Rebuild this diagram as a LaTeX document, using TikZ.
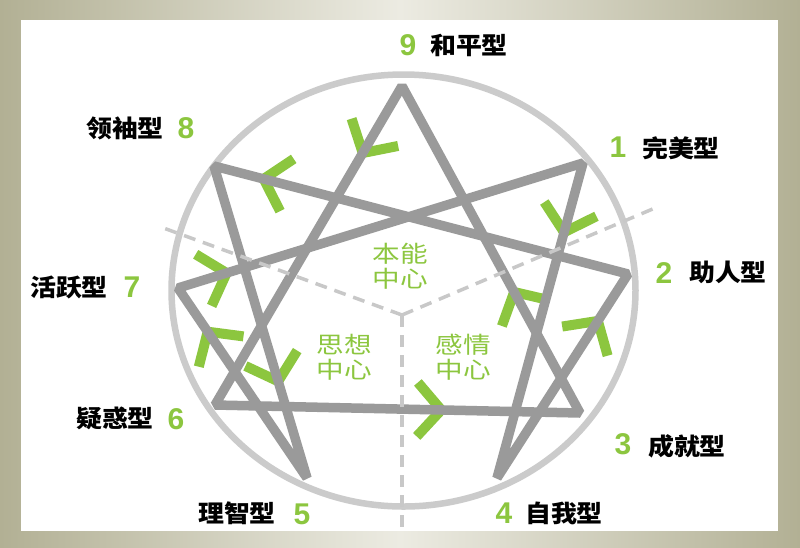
\documentclass[tikz,border=0pt]{standalone}
\usepackage{fontspec}
\usepackage{graphicx}
\newfontfamily\cjk{Noto Sans CJK SC}
\newfontfamily\digf{Liberation Sans}
\definecolor{leaf}{HTML}{8CC63F}
\definecolor{starc}{HTML}{9A9A9A}
\definecolor{ringc}{HTML}{CBCBCB}
\definecolor{dashc}{HTML}{C8C8C8}
\definecolor{frameout}{HTML}{B2B094}
\definecolor{framein}{HTML}{ECEBE2}
\tikzset{
  chev/.pic={\draw[chevline] (-24,-27) -- (0,0) -- (-24,27);},
}
\begin{document}
\begin{tikzpicture}[x=1pt,y=-1pt,
  starline/.style={draw=starc,line width=9.5,line join=bevel},
  ringline/.style={draw=ringc,line width=6.5},
  chevline/.style={draw=leaf,line width=10,line cap=butt,line join=miter},
  divider/.style={draw=dashc,line width=3.5,dash pattern=on 12pt off 8pt},
  num/.style={text=leaf,font=\digf\bfseries\fontsize{30}{30}\selectfont,inner sep=0},
  typ/.style={text=black,font=\cjk\bfseries\fontsize{24}{24}\selectfont,inner sep=0},
  ctrlbl/.style={text=leaf,font=\cjk\fontsize{23}{25}\selectfont,align=center,inner sep=0},
  arrowpos/.style={pos=#1,sloped,allow upside down}
]
\useasboundingbox (0,0) rectangle (800,547);
\shade[left color=frameout, right color=frameout, middle color=framein] (0,0) rectangle (800,547);
\fill[white] (21,20) rectangle (778,531);

% ring
\draw[ringline] (403.5,290.5) ellipse [x radius=232, y radius=216];

% vertices
\coordinate (v9) at (402,86);
\coordinate (v1) at (583,163);
\coordinate (v2) at (628,274);
\coordinate (v3) at (580,413);
\coordinate (v4) at (497,478);
\coordinate (v5) at (307,478);
\coordinate (v6) at (215,405);
\coordinate (v7) at (178,288);
\coordinate (v8) at (214,166);

% arrowheads (under the lines)
\path (v9) -- pic[arrowpos=0.21]{chev} (v6);
\path (v6) -- pic[arrowpos=0.62]{chev} (v3);
\path (v3) -- pic[arrowpos=0.37]{chev} (v9);
\path (v1) -- pic[arrowpos=0.22]{chev} (v4);
\path (v4) -- pic[arrowpos=0.77]{chev} (v2);
\path (v2) -- pic[arrowpos=0.88]{chev} (v8);
\path (v8) -- pic[arrowpos=0.69]{chev} (v5);
\path (v5) -- pic[arrowpos=0.77]{chev} (v7);
\path (v7) -- pic[arrowpos=0.12]{chev} (v1);

% star
\draw[starline] (v9) -- (v3) -- (v6) -- cycle;
\draw[starline] (v1) -- (v4) -- (v2) -- (v8) -- (v5) -- (v7) -- cycle;

% dividers
\coordinate (c0) at (402,315);
\coordinate (dl) at (158,226);
\coordinate (dr) at (655,208);
\coordinate (db) at (402,531);
\draw[divider] (c0) -- (dl);
\draw[divider] (c0) -- (dr);
\draw[divider] (c0) -- (db);

% centre labels
\node[ctrlbl] (cA) at (400,266) {\scalebox{1.2}[1]{本能}\\\scalebox{1.2}[1]{中心}};
\node[ctrlbl] (cB) at (344,357) {\scalebox{1.2}[1]{思想}\\\scalebox{1.2}[1]{中心}};
\node[ctrlbl] (cC) at (463,357) {\scalebox{1.2}[1]{感情}\\\scalebox{1.2}[1]{中心}};

% numbers
\node[num] (n9) at (408,45) {9};
\node[num] (n1) at (618,147) {1};
\node[num] (n2) at (664,273) {2};
\node[num] (n3) at (623,444) {3};
\node[num] (n4) at (504,513) {4};
\node[num] (n5) at (302,514) {5};
\node[num] (n6) at (176,419) {6};
\node[num] (n7) at (132,287) {7};
\node[num] (n8) at (186,128) {8};

% type names
\node[typ] (t9) at (469,45) {\scalebox{1.08}[1]{和平型}};
\node[typ] (t1) at (681,148) {\scalebox{1.08}[1]{完美型}};
\node[typ] (t2) at (728,272) {\scalebox{1.08}[1]{助人型}};
\node[typ] (t3) at (687,446) {\scalebox{1.08}[1]{成就型}};
\node[typ] (t4) at (564,513) {\scalebox{1.08}[1]{自我型}};
\node[typ] (t5) at (237,513) {\scalebox{1.08}[1]{理智型}};
\node[typ] (t6) at (115,418) {\scalebox{1.08}[1]{疑惑型}};
\node[typ] (t7) at (69,287) {\scalebox{1.08}[1]{活跃型}};
\node[typ] (t8) at (125,128) {\scalebox{1.08}[1]{领袖型}};
\end{tikzpicture}
\end{document}
